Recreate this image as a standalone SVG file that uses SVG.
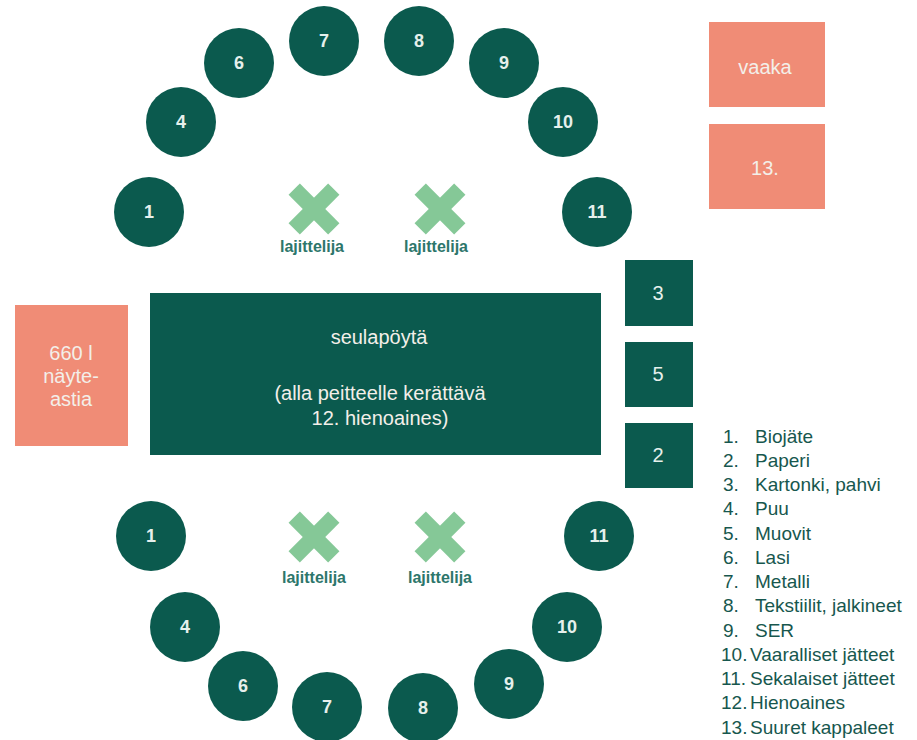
<svg xmlns="http://www.w3.org/2000/svg" width="917" height="740" viewBox="0 0 917 740">
<defs>
<style>
.c{fill:#0b5a4e}
.sal{fill:#f08c76}
.n{font-family:"Liberation Sans",Arial,sans-serif;font-size:18px;font-weight:bold;fill:#e6f0ec;text-anchor:middle;dominant-baseline:central}
.b{font-family:"Liberation Sans",Arial,sans-serif;font-size:20px;fill:#e6f0ec;text-anchor:middle;dominant-baseline:central}
.w{font-family:"Liberation Sans",Arial,sans-serif;font-size:20px;fill:#f3efe9;text-anchor:middle}
.lab{font-family:"Liberation Sans",Arial,sans-serif;font-size:16px;font-weight:bold;fill:#2d766b;text-anchor:middle}
.leg{font-family:"Liberation Sans",Arial,sans-serif;font-size:19px;fill:#17574e}
.x{fill:#85c897}
</style>
<g id="xshape"><rect x="-28" y="-8" width="56" height="16" class="x" transform="rotate(45)"/><rect x="-28" y="-8" width="56" height="16" class="x" transform="rotate(-45)"/></g>
</defs>
<rect width="917" height="740" fill="#ffffff"/>
<g id="connectors"/>

<g id="top-1"><circle class="c" cx="149" cy="212" r="35"/><text class="n" x="149" y="212">1</text></g>
<g id="top-4"><circle class="c" cx="181" cy="122" r="35"/><text class="n" x="181" y="122">4</text></g>
<g id="top-6"><circle class="c" cx="239" cy="63" r="35"/><text class="n" x="239" y="63">6</text></g>
<g id="top-7"><circle class="c" cx="324" cy="41" r="35"/><text class="n" x="324" y="41">7</text></g>
<g id="top-8"><circle class="c" cx="419" cy="41" r="35"/><text class="n" x="419" y="41">8</text></g>
<g id="top-9"><circle class="c" cx="504" cy="63" r="35"/><text class="n" x="504" y="63">9</text></g>
<g id="top-10"><circle class="c" cx="563" cy="122" r="35"/><text class="n" x="563" y="122">10</text></g>
<g id="top-11"><circle class="c" cx="597" cy="212" r="35"/><text class="n" x="597" y="212">11</text></g>

<g id="bot-1"><circle class="c" cx="151" cy="536" r="35"/><text class="n" x="151" y="536">1</text></g>
<g id="bot-4"><circle class="c" cx="185" cy="627" r="35"/><text class="n" x="185" y="627">4</text></g>
<g id="bot-6"><circle class="c" cx="243" cy="686" r="35"/><text class="n" x="243" y="686">6</text></g>
<g id="bot-7"><circle class="c" cx="327" cy="707" r="35"/><text class="n" x="327" y="707">7</text></g>
<g id="bot-8"><circle class="c" cx="423" cy="708" r="35"/><text class="n" x="423" y="708">8</text></g>
<g id="bot-9"><circle class="c" cx="509" cy="684" r="35"/><text class="n" x="509" y="684">9</text></g>
<g id="bot-10"><circle class="c" cx="567" cy="627" r="35"/><text class="n" x="567" y="627">10</text></g>
<g id="bot-11"><circle class="c" cx="599" cy="536" r="35"/><text class="n" x="599" y="536">11</text></g>

<g id="sorter-1"><use href="#xshape" x="314" y="209"/><text class="lab" x="312" y="252">lajittelija</text></g>
<g id="sorter-2"><use href="#xshape" x="440" y="209"/><text class="lab" x="436" y="252">lajittelija</text></g>
<g id="sorter-3"><use href="#xshape" x="314" y="537"/><text class="lab" x="314" y="583">lajittelija</text></g>
<g id="sorter-4"><use href="#xshape" x="440" y="537"/><text class="lab" x="440" y="583">lajittelija</text></g>

<g id="table"><rect class="c" x="150" y="293" width="451" height="162"/>
<text class="w" x="379" y="344" font-size="23">seulapöytä</text>
<text class="w" x="380" y="400">(alla peitteelle kerättävä</text>
<text class="w" x="380" y="425">12. hienoaines)</text></g>

<g id="sample"><rect class="sal" x="15" y="305" width="113" height="141"/>
<text class="w" x="71" y="360">660 l</text>
<text class="w" x="71" y="383">näyte-</text>
<text class="w" x="71" y="406">astia</text></g>

<g id="box-3"><rect class="c" x="625" y="260" width="68" height="66"/><text class="b" x="658" y="293">3</text></g>
<g id="box-5"><rect class="c" x="625" y="342" width="68" height="65"/><text class="b" x="658" y="374">5</text></g>
<g id="box-2"><rect class="c" x="625" y="423" width="68" height="65"/><text class="b" x="658" y="455">2</text></g>

<g id="vaaka"><rect class="sal" x="709" y="22" width="116" height="85"/><text class="w" x="765" y="74" font-size="21">vaaka</text></g>
<g id="box-13"><rect class="sal" x="709" y="124" width="116" height="85"/><text class="w" x="765" y="175">13.</text></g>

<g id="legend" class="leg">
<text x="723" y="443">1.</text><text x="755" y="443">Biojäte</text>
<text x="723" y="467">2.</text><text x="755" y="467">Paperi</text>
<text x="723" y="491">3.</text><text x="755" y="491">Kartonki, pahvi</text>
<text x="723" y="515">4.</text><text x="755" y="515">Puu</text>
<text x="723" y="540">5.</text><text x="755" y="540">Muovit</text>
<text x="723" y="564">6.</text><text x="755" y="564">Lasi</text>
<text x="723" y="588">7.</text><text x="755" y="588">Metalli</text>
<text x="723" y="612">8.</text><text x="755" y="612">Tekstiilit, jalkineet</text>
<text x="723" y="637">9.</text><text x="755" y="637">SER</text>
<text x="721" y="661">10.</text><text x="750" y="661">Vaaralliset jätteet</text>
<text x="721" y="685">11.</text><text x="750" y="685">Sekalaiset jätteet</text>
<text x="721" y="709">12.</text><text x="750" y="709">Hienoaines</text>
<text x="721" y="734">13.</text><text x="750" y="734">Suuret kappaleet</text>
</g>
</svg>
